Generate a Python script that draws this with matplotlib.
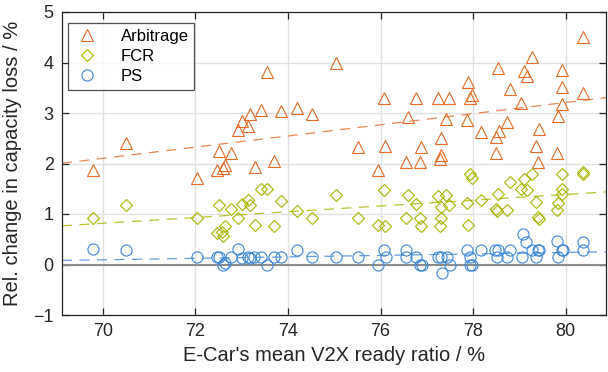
import numpy as np
import matplotlib
matplotlib.use("Agg")
import matplotlib.pyplot as plt

plt.rcParams['font.family'] = ['Liberation Sans', 'DejaVu Sans']

# ---- data ----
x_arb = [69.79, 70.50, 72.03, 72.46, 72.51, 72.59, 72.63, 72.77, 72.93, 73.01,
         73.14, 73.17, 73.29, 73.41, 73.54, 73.70, 73.85, 74.19, 74.53, 75.03,
         75.51, 75.95, 76.08, 76.10, 76.55, 76.59, 76.77, 76.85, 76.88, 77.24,
         77.29, 77.31, 77.31, 77.42, 77.48, 77.87, 77.88, 77.93, 77.98, 78.16,
         78.49, 78.49, 78.54, 78.56, 78.73, 78.79, 79.03, 79.09, 79.16, 79.28,
         79.36, 79.40, 79.43, 79.82, 79.83, 79.91, 79.92, 79.92, 80.37, 80.37]
y_arb = [1.87, 2.40, 1.71, 1.87, 2.24, 1.91, 1.98, 2.20, 2.67, 2.84,
         2.75, 2.98, 1.93, 3.06, 3.81, 2.05, 3.04, 3.09, 2.99, 3.99,
         2.33, 1.88, 3.30, 2.34, 2.02, 2.92, 3.30, 2.02, 2.33, 3.30,
         2.08, 2.16, 2.50, 2.88, 3.30, 2.87, 3.62, 3.30, 3.35, 2.63,
         2.53, 2.20, 3.90, 2.65, 2.82, 3.47, 3.20, 3.84, 3.74, 4.11,
         2.35, 2.03, 2.68, 2.21, 2.95, 3.86, 3.51, 3.17, 4.51, 3.40]

x_fcr = [69.79, 70.50, 72.03, 72.46, 72.51, 72.59, 72.63, 72.57, 72.77, 72.93,
         73.01, 73.14, 73.17, 73.29, 73.41, 73.54, 73.70, 73.85, 74.19, 74.53,
         75.03, 75.51, 75.95, 76.08, 76.10, 76.55, 76.59, 76.77, 76.85, 76.88,
         77.24, 77.29, 77.31, 77.31, 77.42, 77.48, 77.87, 77.88, 77.93, 77.98,
         78.16, 78.49, 78.51, 78.54, 78.73, 78.79, 79.03, 79.09, 79.16, 79.28,
         79.36, 79.40, 79.43, 79.82, 79.83, 79.91, 79.92, 79.92, 80.37, 80.37]
y_fcr = [0.92, 1.18, 0.92, 0.63, 1.18, 0.57, 0.76, 0.65, 1.09, 0.92,
         1.20, 1.27, 1.17, 0.79, 1.50, 1.50, 0.77, 1.25, 1.06, 0.92,
         1.38, 0.92, 0.79, 1.48, 0.76, 0.92, 1.38, 1.20, 0.92, 0.76,
         1.36, 0.76, 1.14, 0.92, 1.38, 1.18, 1.22, 0.79, 1.80, 1.72,
         1.27, 1.09, 1.06, 1.40, 1.07, 1.63, 1.50, 1.70, 1.47, 1.80,
         1.24, 0.94, 0.91, 1.07, 1.22, 1.80, 1.50, 1.40, 1.83, 1.79]

x_ps = [69.79, 70.50, 72.03, 72.46, 72.51, 72.59, 72.63, 72.77, 72.93, 73.01,
        73.14, 73.19, 73.27, 73.42, 73.54, 73.70, 73.85, 74.19, 74.53, 75.04,
        75.52, 75.95, 76.08, 76.11, 76.55, 76.56, 76.77, 76.86, 76.89, 77.24,
        77.31, 77.32, 77.43, 77.50, 77.86, 77.93, 77.93, 77.97, 78.16, 78.47,
        78.51, 78.54, 78.74, 78.79, 79.05, 79.08, 79.15, 79.28, 79.36, 79.40,
        79.43, 79.82, 79.84, 79.92, 79.95, 80.37, 80.38]
y_ps = [0.30, 0.29, 0.15, 0.15, 0.15, -0.01, 0.03, 0.15, 0.30, 0.13,
        0.15, 0.13, 0.15, 0.15, -0.01, 0.15, 0.15, 0.29, 0.15, 0.15,
        0.15, -0.01, 0.29, 0.15, 0.29, 0.15, 0.15, -0.01, -0.01, 0.15,
        0.15, -0.16, 0.15, -0.01, 0.29, 0.15, -0.01, -0.01, 0.29, 0.29,
        0.15, 0.29, 0.15, 0.29, 0.15, 0.61, 0.44, 0.29, 0.15, 0.29,
        0.29, 0.46, 0.15, 0.29, 0.29, 0.44, 0.29]

labels = ["Arbitrage", "FCR", "PS"]
xticks = [70, 72, 74, 76, 78, 80]
yticks = [-1, 0, 1, 2, 3, 4, 5]

c_arb = '#E56B26'
c_fcr = '#A8B400'
c_ps = '#3C86D6'

fig = plt.figure(figsize=(6.08, 3.72), dpi=100)
ax = fig.add_axes([62/608, 1-315/372, (606-62)/608, (315-12)/372])

xlim = (69.12, 80.87)
ax.set_xlim(*xlim)
ax.set_ylim(-1, 5)

ax.axhline(0, color='#8c8c8c', lw=1.5, zorder=1)

series = [(x_arb, y_arb, c_arb, '^', 8.6),
          (x_fcr, y_fcr, c_fcr, 'D', 6.4),
          (x_ps, y_ps, c_ps, 'o', 8.0)]
handles = []
for (xs, ys, col, mk, ms), lab in zip(series, labels):
    h, = ax.plot(xs, ys, linestyle='none', marker=mk, ms=ms, mfc='none',
                 mec=col, mew=0.8, label=lab, zorder=3)
    handles.append(h)
    p = np.polyfit(xs, ys, 1)
    xx = np.array(xlim)
    ax.plot(xx, np.polyval(p, xx), linestyle=(0, (8, 6)), color=col, lw=0.9,
            alpha=0.8, zorder=2)

ax.set_xticks(xticks)
ax.set_yticks(yticks)
ax.grid(True, color='#e1e1e1', lw=1.0)
ax.set_axisbelow(True)
ax.tick_params(direction='in', top=True, right=True, labelsize=13,
               length=5, width=0.9, colors='#262626', pad=6)
for s in ax.spines.values():
    s.set_color('#262626')
    s.set_linewidth(0.9)

ax.set_xlabel("E-Car's mean V2X ready ratio / %", fontsize=14.5, color='#262626', labelpad=4)
ax.set_ylabel("Rel. change in capacity loss / %", fontsize=14.5, color='#262626', labelpad=8)

leg = ax.legend(handles=handles, loc='upper left', bbox_to_anchor=(0.011, 0.963),
                fontsize=12, frameon=True, fancybox=False, edgecolor='#262626',
                borderpad=0.35, labelspacing=0.3, handletextpad=1.2,
                handlelength=1.6, borderaxespad=0.0)
leg.get_frame().set_linewidth(0.9)

fig.savefig("out.png", dpi=100)
